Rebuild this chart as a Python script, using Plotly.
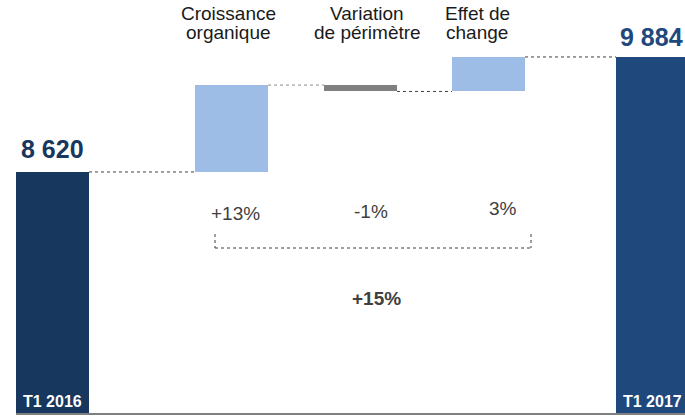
import plotly.graph_objects as go

# ---- data ----
categories = ["T1 2016", "Croissance organique", "Variation de périmètre", "Effet de change", "T1 2017"]
top_lines = [["Croissance", "organique"], ["Variation", "de périmètre"], ["Effet de", "change"]]
start_value = 8620
steps = [955, -70, 379]
end_value = 9884
pct_labels = ["+13%", "-1%", "3%"]
total_pct = "+15%"

# ---- styling / layout ----
x_pos = [52.5, 231.5, 360.5, 488.5, 652.5]
bar_w = 73
col_start = "#17375E"
col_end = "#1F497D"
col_up = "#9DBDE6"
col_down = "#808080"
FONT = "Liberation Sans, Arial, sans-serif"
Y_MIN, Y_MAX = 5971, 10510

levels = [start_value]
for s in steps:
    levels.append(levels[-1] + s)

bases = [0] + [min(levels[i], levels[i + 1]) for i in range(3)] + [0]
heights = [start_value] + [abs(s) for s in steps] + [end_value]
colors = [col_start] + [col_up if s >= 0 else col_down for s in steps] + [col_end]

fig = go.Figure()
fig.add_trace(go.Bar(
    x=x_pos, y=heights, base=bases, width=bar_w,
    marker=dict(color=colors, line=dict(width=0)),
    hoverinfo="skip", showlegend=False,
))

# dotted connectors between consecutive bars
conn_colors = ["#404040", "#8c8c8c", "#404040", "#404040"]
for i in range(4):
    x0 = x_pos[i] + bar_w / 2
    x1 = x_pos[i + 1] - bar_w / 2
    fig.add_shape(type="line", x0=x0, x1=x1, y0=levels[i], y1=levels[i],
                  xref="x", yref="y", line=dict(color=conn_colors[i], width=1, dash="dot"))

ann = []
ann.append(dict(x=x_pos[0], y=start_value, text=f"<b>{start_value:,}</b>".replace(",", " "),
                showarrow=False, xanchor="center", yanchor="bottom", yshift=7,
                font=dict(family=FONT, size=25, color=col_start)))
ann.append(dict(x=x_pos[4], y=end_value, text=f"<b>{end_value:,}</b>".replace(",", " "),
                showarrow=False, xanchor="center", yanchor="bottom", yshift=4, xshift=-1,
                font=dict(family=FONT, size=25, color=col_end)))
for i, c in ((0, col_start), (4, col_end)):
    ann.append(dict(x=x_pos[i], y=Y_MIN, text=f"<b>{categories[i]}</b>", showarrow=False,
                    xanchor="center", yanchor="bottom", yshift=1,
                    font=dict(family=FONT, size=16, color="white")))
top_xshift = [-3, 6.5, -11.5]
for i, lines in enumerate(top_lines):
    for j, t in enumerate(lines):
        ann.append(dict(x=x_pos[i + 1], y=1, yref="paper", text=t, showarrow=False,
                        xanchor="center", yanchor="top", xshift=top_xshift[i], yshift=-1 - 19 * j,
                        font=dict(family=FONT, size=19, color="#1a1a1a")))
pct_x = [235, 371, 503]
pct_y = [0.484, 0.489, 0.494]
for i, t in enumerate(pct_labels):
    ann.append(dict(x=pct_x[i], y=pct_y[i], yref="paper", text=t, showarrow=False,
                    xanchor="center", yanchor="middle",
                    font=dict(family=FONT, size=19, color="#404040")))
ann.append(dict(x=376, y=0.278, yref="paper", text=f"<b>{total_pct}</b>", showarrow=False,
                xanchor="center", yanchor="middle",
                font=dict(family=FONT, size=19, color="#404040")))

br_line = dict(color="#404040", width=1, dash="dot")
for xx in (215, 531):
    fig.add_shape(type="line", x0=xx, x1=xx, y0=0.4334, y1=0.3995, xref="x", yref="paper", line=br_line)
fig.add_shape(type="line", x0=215, x1=531, y0=0.3995, y1=0.3995, xref="x", yref="paper", line=br_line)

fig.update_layout(
    width=685, height=416,
    margin=dict(l=16, r=0, t=0, b=3),
    plot_bgcolor="white", paper_bgcolor="white",
    xaxis=dict(range=[16, 685], showgrid=False, zeroline=False, showticklabels=False,
               showline=True, linecolor="#7f7f7f", linewidth=1.5, ticks=""),
    yaxis=dict(range=[Y_MIN, Y_MAX], showgrid=False, zeroline=False, showticklabels=False,
               showline=False, ticks=""),
    annotations=ann,
    bargap=0,
)

fig.write_html("out.html", config={"displayModeBar": False},
               post_script="document.body.style.margin='0';document.body.style.overflow='hidden';")
